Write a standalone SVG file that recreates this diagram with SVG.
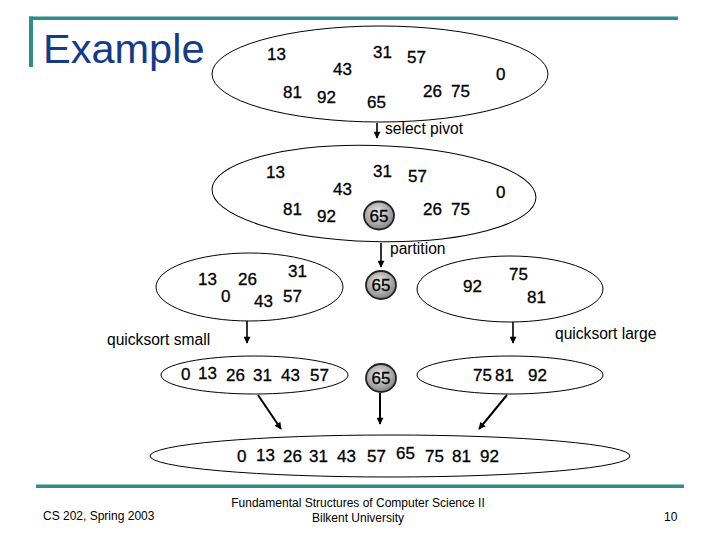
<svg xmlns="http://www.w3.org/2000/svg" width="720" height="540" viewBox="0 0 720 540">
<style>
.set{fill:#fff;stroke:#000;stroke-width:1}
.num{font-family:"Liberation Sans",Arial,sans-serif;font-size:17px;fill:#000;stroke:#000;stroke-width:0.3}
.lbl{font-family:"Liberation Sans",Arial,sans-serif;font-size:15.6px;fill:#000}
.foot{font-family:"Liberation Sans",Arial,sans-serif;font-size:12px;fill:#000}
.conn{stroke:#000;stroke-width:1.6;fill:none;marker-end:url(#ah)}
.piv{fill:url(#gp);stroke:#222;stroke-width:1.8}
</style>
<defs>
<marker id="ah" viewBox="0 0 10 10" refX="9" refY="5" markerUnits="userSpaceOnUse" markerWidth="8" markerHeight="7" orient="auto">
<path d="M0,0 L10,5 L0,10 z" fill="#000"/>
</marker>
<radialGradient id="gp" cx="45%" cy="40%" r="60%">
<stop offset="0" stop-color="#f0f0f0"/>
<stop offset="1" stop-color="#858585"/>
</radialGradient>
</defs>
<rect width="720" height="540" fill="#fff"/>
<g id="frame">
<rect x="29" y="16.5" width="649" height="3.5" fill="#2F8C8A"/>
<rect x="29" y="16.5" width="4" height="50.5" fill="#2F8C8A"/>
<rect x="36" y="484.5" width="648" height="3.5" fill="#2F8C8A"/>
<text x="43" y="63" font-family="Liberation Sans,Arial,sans-serif" font-size="41.5" fill="#153A8C">Example</text>
</g>
<g id="connectors">
<line class="conn" x1="377" y1="123" x2="377" y2="138"/>
<line class="conn" x1="381" y1="243" x2="381" y2="267"/>
<line class="conn" x1="247" y1="321" x2="247" y2="343"/>
<line class="conn" x1="513" y1="322" x2="513" y2="343"/>
<line class="conn" x1="258" y1="395" x2="281" y2="429" style="stroke-width:2"/>
<line class="conn" x1="380" y1="393" x2="380" y2="424" style="stroke-width:2"/>
<line class="conn" x1="507" y1="395" x2="479" y2="429" style="stroke-width:2"/>
</g>
<g id="labels">
<text class="lbl" x="385" y="134">select pivot</text>
<text class="lbl" x="390" y="254">partition</text>
<text class="lbl" x="107" y="345">quicksort small</text>
<text class="lbl" x="555" y="339">quicksort large</text>
</g>
<g id="set-initial">
<ellipse class="set" cx="380" cy="74" rx="168" ry="48"/>
<text class="num" x="267" y="60">13</text>
<text class="num" x="333" y="75">43</text>
<text class="num" x="373" y="58">31</text>
<text class="num" x="407" y="63">57</text>
<text class="num" x="496" y="80">0</text>
<text class="num" x="283" y="98">81</text>
<text class="num" x="317" y="103">92</text>
<text class="num" x="367" y="108">65</text>
<text class="num" x="423" y="97">26</text>
<text class="num" x="451" y="97">75</text>
</g>
<g id="set-pivot">
<ellipse class="set" cx="374" cy="193.5" rx="162" ry="48" transform="rotate(1.5 374 193.5)"/>
<text class="num" x="266" y="178">13</text>
<text class="num" x="333" y="195">43</text>
<text class="num" x="373" y="177">31</text>
<text class="num" x="408" y="182">57</text>
<text class="num" x="496" y="198">0</text>
<text class="num" x="283" y="215">81</text>
<text class="num" x="317" y="222">92</text>
<ellipse class="piv" cx="379" cy="215.5" rx="15" ry="14"/>
<text class="num" x="379" y="221.5" text-anchor="middle">65</text>
<text class="num" x="423" y="215">26</text>
<text class="num" x="451" y="215">75</text>
</g>
<g id="small">
<ellipse class="set" cx="249.5" cy="287" rx="93.5" ry="34"/>
<text class="num" x="198" y="285">13</text>
<text class="num" x="238" y="285">26</text>
<text class="num" x="288" y="277">31</text>
<text class="num" x="221" y="302">0</text>
<text class="num" x="254" y="307">43</text>
<text class="num" x="283" y="302">57</text>
</g>
<g id="pivot1">
<ellipse class="piv" cx="381" cy="285" rx="15" ry="14"/>
<text class="num" x="381" y="291" text-anchor="middle">65</text>
</g>
<g id="large">
<ellipse class="set" cx="510" cy="289" rx="93" ry="33"/>
<text class="num" x="463" y="292">92</text>
<text class="num" x="509" y="280">75</text>
<text class="num" x="527" y="303">81</text>
</g>
<g id="small-sorted">
<ellipse class="set" cx="254.5" cy="375" rx="93.5" ry="19"/>
<text class="num" x="181" y="380">0</text>
<text class="num" x="198" y="379">13</text>
<text class="num" x="226" y="381">26</text>
<text class="num" x="253" y="381">31</text>
<text class="num" x="281" y="381">43</text>
<text class="num" x="310" y="381">57</text>
</g>
<g id="pivot2">
<ellipse class="piv" cx="381" cy="378" rx="15" ry="14"/>
<text class="num" x="381" y="384" text-anchor="middle">65</text>
</g>
<g id="large-sorted">
<ellipse class="set" cx="510" cy="375" rx="93" ry="19"/>
<text class="num" x="473" y="381">75</text>
<text class="num" x="495" y="381">81</text>
<text class="num" x="528" y="381">92</text>
</g>
<g id="result">
<ellipse class="set" cx="390" cy="456" rx="240" ry="21"/>
<text class="num" x="237" y="462">0</text>
<text class="num" x="256" y="461">13</text>
<text class="num" x="283" y="462">26</text>
<text class="num" x="309" y="462">31</text>
<text class="num" x="337" y="462">43</text>
<text class="num" x="367" y="462">57</text>
<text class="num" x="396" y="459">65</text>
<text class="num" x="425" y="462">75</text>
<text class="num" x="452" y="462">81</text>
<text class="num" x="480" y="462">92</text>
</g>
<g id="footer">
<text class="foot" x="43" y="520">CS 202, Spring 2003</text>
<text class="foot" x="358" y="507" text-anchor="middle">Fundamental Structures of Computer Science II</text>
<text class="foot" x="358" y="522" text-anchor="middle">Bilkent University</text>
<text class="foot" x="664" y="521">10</text>
</g>
</svg>
